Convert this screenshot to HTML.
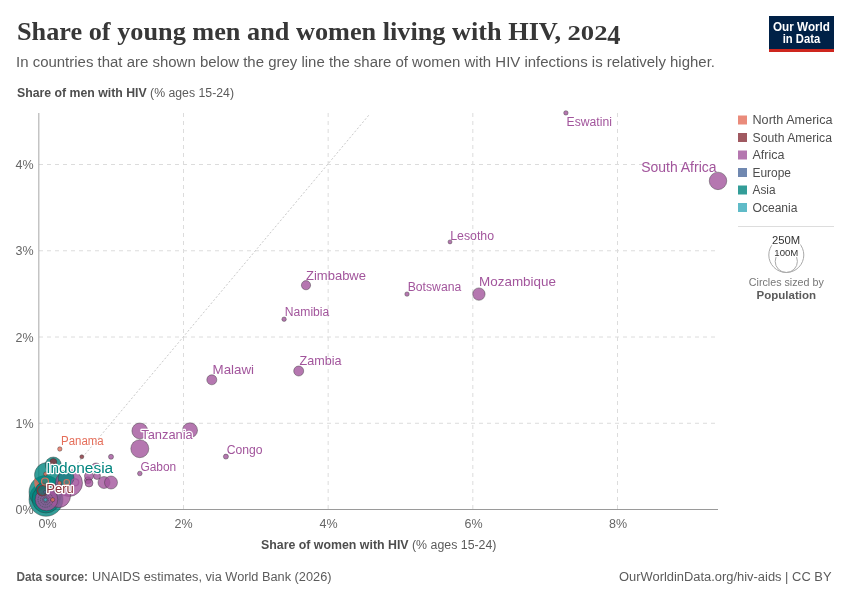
<!DOCTYPE html>
<html><head><meta charset="utf-8">
<style>
html,body{margin:0;padding:0;background:#fff;width:850px;height:600px;overflow:hidden}
svg{display:block;will-change:transform}
text{font-family:"Liberation Sans",sans-serif}
.serif{font-family:"Liberation Serif",serif}
</style></head><body>
<svg width="850" height="600" viewBox="0 0 850 600">
<rect width="850" height="600" fill="#fff"/>
<!-- header -->
<text class="serif" x="17" y="40" font-size="26" font-weight="bold" fill="#373737" textLength="544" lengthAdjust="spacingAndGlyphs">Share of young men and women living with HIV,</text>
<text class="serif" x="567.5" y="40.2" font-size="20" font-weight="bold" fill="#373737" textLength="40" lengthAdjust="spacingAndGlyphs">202</text>
<text class="serif" x="607.3" y="43.9" font-size="27" font-weight="bold" fill="#373737" textLength="13.2" lengthAdjust="spacingAndGlyphs">4</text>
<text x="16" y="66.5" font-size="14" fill="#5b5b5b" textLength="699" lengthAdjust="spacingAndGlyphs">In countries that are shown below the grey line the share of women with HIV infections is relatively higher.</text>
<!-- logo -->
<rect x="769" y="16" width="65" height="36" fill="#002147"/>
<rect x="769" y="49" width="65" height="3" fill="#ce261e"/>
<text x="801.5" y="30.7" font-size="12" font-weight="bold" fill="#fff" text-anchor="middle" textLength="57" lengthAdjust="spacingAndGlyphs">Our World</text>
<text x="801.5" y="42.7" font-size="12" font-weight="bold" fill="#fff" text-anchor="middle" textLength="37.5" lengthAdjust="spacingAndGlyphs">in Data</text>
<!-- y axis title -->
<text x="17" y="97" font-size="12" fill="#5b5b5b" textLength="217" lengthAdjust="spacingAndGlyphs"><tspan font-weight="bold" fill="#4e4e4e">Share of men with HIV</tspan> (% ages 15-24)</text>

<!-- gridlines -->
<g stroke="#dcdcdc" stroke-width="1" stroke-dasharray="4,4" fill="none">
  <line x1="39" y1="164.5" x2="718" y2="164.5"/>
  <line x1="39" y1="250.75" x2="718" y2="250.75"/>
  <line x1="39" y1="337" x2="718" y2="337"/>
  <line x1="39" y1="423.25" x2="718" y2="423.25"/>
  <line x1="183.5" y1="113" x2="183.5" y2="509"/>
  <line x1="328.17" y1="113" x2="328.17" y2="509"/>
  <line x1="472.83" y1="113" x2="472.83" y2="509"/>
  <line x1="617.5" y1="113" x2="617.5" y2="509"/>
</g>
<!-- axes -->
<line x1="38.83" y1="113" x2="38.83" y2="509" stroke="#a8a8a8" stroke-width="1"/>
<line x1="38.83" y1="509.5" x2="718" y2="509.5" stroke="#9a9a9a" stroke-width="1"/>
<!-- diagonal -->
<line x1="38.83" y1="509.5" x2="368.8" y2="115.2" stroke="#c2c2c2" stroke-width="0.9" stroke-dasharray="2,2"/>

<!-- x tick labels -->
<g font-size="12.5" fill="#666" text-anchor="middle">
  <text x="47.5" y="527.6">0%</text>
  <text x="183.5" y="527.6">2%</text>
  <text x="328.5" y="527.6">4%</text>
  <text x="473.5" y="527.6">6%</text>
  <text x="618" y="527.6">8%</text>
</g>
<!-- x axis title -->
<text x="261" y="548.5" font-size="12" fill="#5b5b5b" textLength="235.5" lengthAdjust="spacingAndGlyphs"><tspan font-weight="bold" fill="#4e4e4e">Share of women with HIV</tspan> (% ages 15-24)</text>

<!-- points -->
<g id="pts" stroke="#333" stroke-opacity="0.7" stroke-width="0.6" fill-opacity="0.8">
<circle cx="46" cy="499.3" r="17" fill="#00847e"/>
<circle cx="45.5" cy="492" r="16.5" fill="#00847e"/>
<circle cx="47" cy="475" r="12.5" fill="#00847e"/>
<path d="M34.5 478 Q37.5 480.5 39.25 483.5 Q37 486 35.25 488 Q33.5 483 34.5 478Z" fill="#e56e5a" stroke="none"/>
<circle cx="69" cy="483" r="13.5" fill="#a2559c"/>
<circle cx="46" cy="499" r="14" fill="#00847e"/>
<circle cx="59" cy="496" r="11.5" fill="#a2559c"/>
<circle cx="46.5" cy="499.5" r="11.3" fill="#a2559c"/>
<circle cx="66" cy="478" r="8" fill="#00847e"/>
<circle cx="42.5" cy="489.5" r="6.5" fill="#00847e"/>
<circle cx="42.5" cy="490.5" r="5" fill="#883039" fill-opacity="0.25" stroke="#883039" stroke-opacity="0.9" stroke-width="1.2"/>
<circle cx="53.3" cy="465" r="8" fill="#00847e"/>
<circle cx="53.3" cy="462" r="3.5" fill="#883039"/>
<circle cx="45" cy="481.5" r="3.5" fill="#e56e5a" fill-opacity="0.25" stroke="#e56e5a" stroke-opacity="0.9" stroke-width="1.2"/>
<circle cx="45.5" cy="474" r="2" fill="#e56e5a"/>
<circle cx="45" cy="492" r="1.5" fill="#4c6a9c"/>
<circle cx="59.6" cy="483" r="2" fill="#e56e5a"/>
<circle cx="66.7" cy="482.3" r="2.8" fill="#e56e5a" fill-opacity="0.25" stroke="#e56e5a" stroke-opacity="0.9" stroke-width="1.2"/>
<circle cx="75.2" cy="482.3" r="3.5" fill="#a2559c" fill-opacity="0.25" stroke="#a2559c" stroke-opacity="0.9" stroke-width="1.2"/>
<circle cx="87.9" cy="480.2" r="3.5" fill="#a2559c"/>
<circle cx="89" cy="476" r="4.5" fill="#a2559c"/>
<circle cx="96" cy="468" r="5" fill="#a2559c"/>
<circle cx="97" cy="476" r="3.5" fill="#a2559c"/>
<circle cx="89" cy="483" r="4" fill="#a2559c"/>
<circle cx="104" cy="482.5" r="6" fill="#a2559c"/>
<circle cx="111" cy="482.5" r="6.5" fill="#a2559c"/>
<circle cx="111" cy="456.8" r="2.5" fill="#a2559c"/>
<circle cx="81.8" cy="456.8" r="2" fill="#883039"/>
<circle cx="59.8" cy="449" r="2.2" fill="#e56e5a"/>
<circle cx="45.5" cy="499.75" r="7.5" fill="none" stroke="#4a5560" stroke-opacity="0.8" stroke-width="1" stroke-dasharray="1.5,0.8"/>
<circle cx="45.5" cy="499.75" r="5" fill="none" stroke="#4a5560" stroke-opacity="0.8" stroke-width="1" stroke-dasharray="1.5,0.8"/>
<circle cx="45.5" cy="499.75" r="3" fill="none" stroke="#4a5560" stroke-opacity="0.8" stroke-width="1" stroke-dasharray="1.5,0.8"/>
<circle cx="45.5" cy="499.75" r="1.8" fill="#38aaba"/>
<circle cx="52.75" cy="499.75" r="2" fill="#e56e5a"/>
<circle cx="139.8" cy="473.5" r="2.3" fill="#a2559c"/>
<circle cx="139.8" cy="448.7" r="9" fill="#a2559c"/>
<circle cx="139.8" cy="430.9" r="7.9" fill="#a2559c"/>
<circle cx="190" cy="430.3" r="7.5" fill="#a2559c"/>
<circle cx="225.9" cy="456.6" r="2.5" fill="#a2559c"/>
<circle cx="211.8" cy="379.8" r="5" fill="#a2559c"/>
<circle cx="298.7" cy="371" r="5" fill="#a2559c"/>
<circle cx="284.1" cy="319.2" r="2.2" fill="#a2559c"/>
<circle cx="306" cy="285.2" r="4.6" fill="#a2559c"/>
<circle cx="407" cy="294.1" r="2.2" fill="#a2559c"/>
<circle cx="478.9" cy="294.1" r="6.2" fill="#a2559c"/>
<circle cx="450" cy="241.9" r="2" fill="#a2559c"/>
<circle cx="565.9" cy="112.9" r="2.2" fill="#a2559c"/>
<circle cx="718" cy="180.9" r="8.75" fill="#a2559c"/>
</g>
<g id="labels">
<text x="566.5" y="125.5" font-size="12" fill="#a2559c" textLength="45.4" lengthAdjust="spacingAndGlyphs">Eswatini</text>
<text x="641.2" y="171.8" font-size="14" fill="#a2559c" textLength="75.3" lengthAdjust="spacingAndGlyphs">South Africa</text>
<text x="450.2" y="239.8" font-size="12" fill="#a2559c" textLength="43.9" lengthAdjust="spacingAndGlyphs">Lesotho</text>
<text x="306" y="279.8" font-size="13" fill="#a2559c" textLength="60" lengthAdjust="spacingAndGlyphs">Zimbabwe</text>
<text x="407.7" y="291.3" font-size="12" fill="#a2559c" textLength="53.6" lengthAdjust="spacingAndGlyphs">Botswana</text>
<text x="479" y="286.4" font-size="13" fill="#a2559c" textLength="77" lengthAdjust="spacingAndGlyphs">Mozambique</text>
<text x="284.8" y="316.4" font-size="12" fill="#a2559c" textLength="44.5" lengthAdjust="spacingAndGlyphs">Namibia</text>
<text x="212.6" y="373.9" font-size="13" fill="#a2559c" textLength="41.5" lengthAdjust="spacingAndGlyphs">Malawi</text>
<text x="299.6" y="365.1" font-size="13" fill="#a2559c" textLength="42" lengthAdjust="spacingAndGlyphs">Zambia</text>
<text x="141.2" y="438.8" font-size="13" fill="#a2559c" textLength="51.6" lengthAdjust="spacingAndGlyphs" stroke="#fff" stroke-width="2.5" stroke-linejoin="round" paint-order="stroke">Tanzania</text>
<text x="226.7" y="453.5" font-size="12" fill="#a2559c" textLength="35.9" lengthAdjust="spacingAndGlyphs">Congo</text>
<text x="140.4" y="470.7" font-size="12" fill="#a2559c" textLength="35.8" lengthAdjust="spacingAndGlyphs">Gabon</text>
<text x="61" y="445" font-size="12" fill="#e56e5a" textLength="42.75" lengthAdjust="spacingAndGlyphs">Panama</text>
<text x="46.25" y="472.5" font-size="15.5" fill="#00847e" textLength="66.9" lengthAdjust="spacingAndGlyphs" stroke="#fff" stroke-width="2.5" stroke-linejoin="round" paint-order="stroke">Indonesia</text>
<text x="46.25" y="492.5" font-size="13" fill="#883039" textLength="27.5" lengthAdjust="spacingAndGlyphs" stroke="#fff" stroke-width="2.5" stroke-linejoin="round" paint-order="stroke">Peru</text>
</g>

<!-- y tick labels -->
<g font-size="12.5" fill="#666" text-anchor="end" transform="translate(0.7,0)">
  <text x="33" y="169">4%</text>
  <text x="33" y="255.3">3%</text>
  <text x="33" y="341.5">2%</text>
  <text x="33" y="427.7">1%</text>
  <text x="33" y="513.5">0%</text>
</g>
<!-- legend -->
<g>
  <rect x="738" y="115.5" width="9" height="9" fill="#e56e5a" fill-opacity="0.8"/>
  <rect x="738" y="133" width="9" height="9" fill="#883039" fill-opacity="0.8"/>
  <rect x="738" y="150.5" width="9" height="9" fill="#a2559c" fill-opacity="0.8"/>
  <rect x="738" y="168" width="9" height="9" fill="#4c6a9c" fill-opacity="0.8"/>
  <rect x="738" y="185.5" width="9" height="9" fill="#00847e" fill-opacity="0.8"/>
  <rect x="738" y="203" width="9" height="9" fill="#38aaba" fill-opacity="0.8"/>
</g>
<g font-size="12" fill="#4e4e4e">
  <text x="752.5" y="124" textLength="80" lengthAdjust="spacingAndGlyphs">North America</text>
  <text x="752.5" y="141.5" textLength="79.5" lengthAdjust="spacingAndGlyphs">South America</text>
  <text x="752.5" y="159" textLength="32" lengthAdjust="spacingAndGlyphs">Africa</text>
  <text x="752.5" y="176.5" textLength="38.5" lengthAdjust="spacingAndGlyphs">Europe</text>
  <text x="752.5" y="194" textLength="23" lengthAdjust="spacingAndGlyphs">Asia</text>
  <text x="752.5" y="211.5" textLength="45" lengthAdjust="spacingAndGlyphs">Oceania</text>
</g>
<line x1="738" y1="226.5" x2="834" y2="226.5" stroke="#ddd"/>
<circle cx="786.3" cy="255" r="17.5" fill="none" stroke="#aaa" stroke-width="1"/>
<circle cx="786.3" cy="261.4" r="11.1" fill="none" stroke="#aaa" stroke-width="1"/>
<text x="772" y="243.7" font-size="10.5" fill="#333" stroke="#fff" stroke-width="2" paint-order="stroke" textLength="28.2" lengthAdjust="spacingAndGlyphs">250M</text>
<text x="774.3" y="255.8" font-size="9.3" fill="#333" stroke="#fff" stroke-width="2" paint-order="stroke" textLength="24" lengthAdjust="spacingAndGlyphs">100M</text>
<text x="748.8" y="285.7" font-size="11" fill="#777" textLength="75" lengthAdjust="spacingAndGlyphs">Circles sized by</text>
<text x="786.3" y="299.2" font-size="11.5" font-weight="bold" fill="#5b5b5b" text-anchor="middle">Population</text>

<!-- footer -->
<text x="16.5" y="581" font-size="12.5" fill="#5b5b5b" font-weight="bold" textLength="71.5" lengthAdjust="spacingAndGlyphs">Data source:</text>
<text x="92" y="581" font-size="12.5" fill="#5b5b5b" textLength="239.5" lengthAdjust="spacingAndGlyphs">UNAIDS estimates, via World Bank (2026)</text>
<text x="619" y="581" font-size="12.5" fill="#5b5b5b" textLength="212.5" lengthAdjust="spacingAndGlyphs">OurWorldinData.org/hiv-aids | CC BY</text>
</svg>
</body></html>
